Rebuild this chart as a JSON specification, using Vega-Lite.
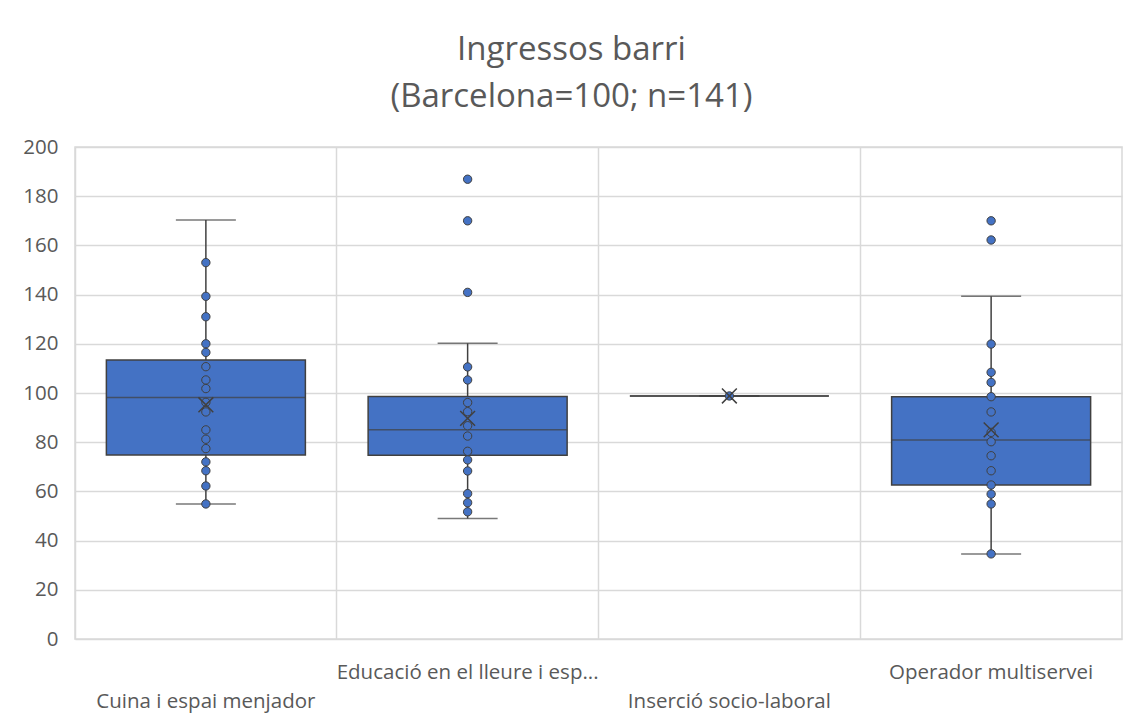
{
  "$schema": "https://vega.github.io/schema/vega-lite/v6.json",
  "autosize": "none",
  "width": 1047,
  "height": 492,
  "padding": {"left": 75, "top": 147, "right": 10, "bottom": 85},
  "background": "white",
  "title": {
    "text": ["Ingressos barri", "(Barcelona=100; n=141)"],
    "anchor": "middle",
    "frame": "group",
    "dx": -27,
    "offset": 23,
    "font": "Open Sans",
    "fontSize": 33,
    "fontWeight": "normal",
    "color": "#595959",
    "lineHeight": 47
  },
  "config": {
    "view": {"stroke": "#d9d9d9", "strokeWidth": 1.5},
    "axis": {
      "labelFont": "Open Sans",
      "labelFontSize": 20.5,
      "labelColor": "#595959",
      "gridColor": "#d9d9d9",
      "gridWidth": 1.5,
      "domain": false,
      "ticks": false,
      "tickSize": 0,
      "title": null
    }
  },
  "datasets": {
    "stats": [
      {"categoria": "Cuina i espai menjador", "lower": 54.9, "q1": 74.8, "median": 98.2, "q3": 113.4, "upper": 170.3, "mean": 95.2},
      {"categoria": "Educació en el lleure i esp...", "lower": 49.0, "q1": 74.7, "median": 85.1, "q3": 98.6, "upper": 120.2, "mean": 89.7},
      {"categoria": "Inserció socio-laboral", "lower": 98.8, "q1": 98.8, "median": 98.8, "q3": 98.8, "upper": 98.8, "mean": 98.8},
      {"categoria": "Operador multiservei", "lower": 34.6, "q1": 62.6, "median": 80.9, "q3": 98.5, "upper": 139.3, "mean": 85.0}
    ],
    "punts": [
      {"categoria": "Cuina i espai menjador", "valor": 153.0},
      {"categoria": "Cuina i espai menjador", "valor": 139.3},
      {"categoria": "Cuina i espai menjador", "valor": 131.0},
      {"categoria": "Cuina i espai menjador", "valor": 120.0},
      {"categoria": "Cuina i espai menjador", "valor": 116.5},
      {"categoria": "Cuina i espai menjador", "valor": 110.7},
      {"categoria": "Cuina i espai menjador", "valor": 105.3},
      {"categoria": "Cuina i espai menjador", "valor": 101.8},
      {"categoria": "Cuina i espai menjador", "valor": 96.2},
      {"categoria": "Cuina i espai menjador", "valor": 92.3},
      {"categoria": "Cuina i espai menjador", "valor": 85.0},
      {"categoria": "Cuina i espai menjador", "valor": 81.2},
      {"categoria": "Cuina i espai menjador", "valor": 77.4},
      {"categoria": "Cuina i espai menjador", "valor": 72.0},
      {"categoria": "Cuina i espai menjador", "valor": 68.4},
      {"categoria": "Cuina i espai menjador", "valor": 62.2},
      {"categoria": "Cuina i espai menjador", "valor": 54.9},
      {"categoria": "Educació en el lleure i esp...", "valor": 186.9},
      {"categoria": "Educació en el lleure i esp...", "valor": 170.0},
      {"categoria": "Educació en el lleure i esp...", "valor": 140.9},
      {"categoria": "Educació en el lleure i esp...", "valor": 110.6},
      {"categoria": "Educació en el lleure i esp...", "valor": 105.3},
      {"categoria": "Educació en el lleure i esp...", "valor": 96.1},
      {"categoria": "Educació en el lleure i esp...", "valor": 92.4},
      {"categoria": "Educació en el lleure i esp...", "valor": 86.7},
      {"categoria": "Educació en el lleure i esp...", "valor": 82.5},
      {"categoria": "Educació en el lleure i esp...", "valor": 76.3},
      {"categoria": "Educació en el lleure i esp...", "valor": 72.8},
      {"categoria": "Educació en el lleure i esp...", "valor": 68.3},
      {"categoria": "Educació en el lleure i esp...", "valor": 59.1},
      {"categoria": "Educació en el lleure i esp...", "valor": 55.4},
      {"categoria": "Educació en el lleure i esp...", "valor": 51.7},
      {"categoria": "Inserció socio-laboral", "valor": 98.8},
      {"categoria": "Operador multiservei", "valor": 170.0},
      {"categoria": "Operador multiservei", "valor": 162.2},
      {"categoria": "Operador multiservei", "valor": 119.9},
      {"categoria": "Operador multiservei", "valor": 108.4},
      {"categoria": "Operador multiservei", "valor": 104.3},
      {"categoria": "Operador multiservei", "valor": 98.5},
      {"categoria": "Operador multiservei", "valor": 92.3},
      {"categoria": "Operador multiservei", "valor": 84.0},
      {"categoria": "Operador multiservei", "valor": 80.2},
      {"categoria": "Operador multiservei", "valor": 74.5},
      {"categoria": "Operador multiservei", "valor": 68.4},
      {"categoria": "Operador multiservei", "valor": 62.6},
      {"categoria": "Operador multiservei", "valor": 58.9},
      {"categoria": "Operador multiservei", "valor": 54.9},
      {"categoria": "Operador multiservei", "valor": 34.6}
    ]
  },
  "encoding": {
    "x": {
      "field": "categoria",
      "type": "nominal",
      "sort": null,
      "scale": {"paddingInner": 0, "paddingOuter": 0},
      "axis": {
        "bandPosition": 0,
        "grid": true,
        "labelAngle": 0,
        "labelAlign": "center",
        "labelBaseline": "top",
        "labelPadding": 23,
        "labelLineHeight": 29,
        "labelOverlap": false,
        "labelLimit": 0,
        "labelExpr": "indexof(['Cuina i espai menjador','Inserció socio-laboral'], datum.label) >= 0 ? ['', datum.label] : datum.label"
      }
    }
  },
  "layer": [
    {
      "data": {"name": "stats"},
      "mark": {"type": "rule", "color": "#404040", "strokeWidth": 1.5},
      "encoding": {
        "y": {"field": "lower", "type": "quantitative", "scale": {"domain": [0, 200], "nice": false}, "axis": {"values": [0, 20, 40, 60, 80, 100, 120, 140, 160, 180, 200], "labelPadding": 17, "grid": true}},
        "y2": {"field": "upper"}
      }
    },
    {
      "data": {"name": "stats"},
      "mark": {"type": "tick", "color": "#404040", "thickness": 1.5, "size": 60, "orient": "horizontal"},
      "encoding": {"y": {"field": "upper", "type": "quantitative"}}
    },
    {
      "data": {"name": "stats"},
      "mark": {"type": "tick", "color": "#404040", "thickness": 1.5, "size": 60, "orient": "horizontal"},
      "encoding": {"y": {"field": "lower", "type": "quantitative"}}
    },
    {
      "data": {"name": "stats"},
      "mark": {"type": "bar", "color": "#4472C4", "stroke": "#404040", "strokeWidth": 1.5, "size": 199},
      "encoding": {
        "y": {"field": "q1", "type": "quantitative"},
        "y2": {"field": "q3"}
      }
    },
    {
      "data": {"name": "stats"},
      "mark": {"type": "tick", "color": "#404040", "thickness": 1.5, "size": 199, "orient": "horizontal"},
      "encoding": {"y": {"field": "median", "type": "quantitative"}}
    },
    {
      "data": {"name": "punts"},
      "mark": {"type": "point", "shape": "circle", "filled": true, "fill": "#4472C4", "stroke": "#404040", "strokeWidth": 1, "opacity": 1, "size": 70},
      "encoding": {"y": {"field": "valor", "type": "quantitative"}}
    },
    {
      "data": {"name": "stats"},
      "mark": {"type": "point", "shape": "M-1,-1L1,1M-1,1L1,-1", "filled": false, "stroke": "#404040", "strokeWidth": 1.5, "opacity": 1, "size": 220},
      "encoding": {"y": {"field": "mean", "type": "quantitative"}}
    }
  ]
}
